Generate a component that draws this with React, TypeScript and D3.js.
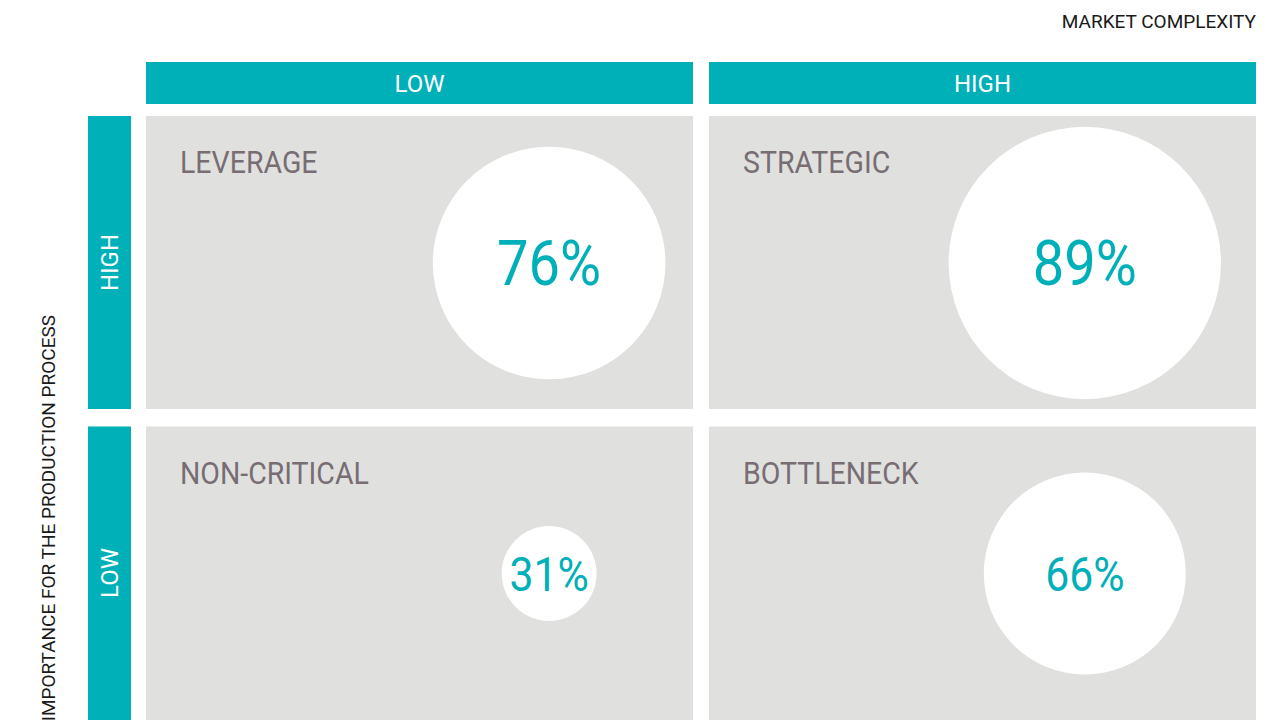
import React from "react";
import * as d3 from "d3";

const columns = ["LOW", "HIGH"];
const rows = ["HIGH", "LOW"];
const quadrantNames = ["LEVERAGE", "STRATEGIC", "NON-CRITICAL", "BOTTLENECK"];
const quadrantValues = [76, 89, 31, 66];
const xAxisTitle = "MARKET COMPLEXITY";
const yAxisTitle = "IMPORTANCE FOR THE PRODUCTION PROCESS";

const W = 1278;
const H = 720;
const TEAL = "#00b0b9";
const CELL = "#e0e1df";
const LABEL = "#776d73";
const FONT = "Roboto, 'Liberation Sans', sans-serif";
const circleXFrac = [0.737, 0.687];

export default function App() {
  const x = d3.scaleBand<string>().domain(columns).range([146, 1256]).paddingInner(16 / 563);
  const y = d3.scaleBand<string>().domain(rows).range([116, 720]).paddingInner(17 / 310.5);
  const bw = x.bandwidth();
  const bh = y.bandwidth();
  const r = d3.scaleLinear().domain([0, 100]).range([0, 153]);
  const fsPct = (v: number) => (v >= 70 ? 63 : 48);
  const rowH = (ri: number) => (ri === 0 ? 293 : bh + 2);

  return (
    <svg width={W} height={H} style={{ position: "absolute", left: 0, top: 0, background: "#fff" }}>
      <text x={1256} y={28} textAnchor="end" fontFamily={FONT} fontSize={19} fill="#1a1a1a">
        {xAxisTitle}
      </text>
      {columns.map((c) => (
        <g key={"col" + c}>
          <rect x={x(c)} y={62} width={bw} height={42} fill={TEAL} />
          <text x={(x(c) as number) + bw / 2} y={92} textAnchor="middle" fontFamily={FONT} fontSize={24} fill="#fff">
            {c}
          </text>
        </g>
      ))}
      {rows.map((rw, ri) => {
        const yy = y(rw) as number;
        return (
          <g key={"row" + rw}>
            <rect x={88} y={yy} width={43} height={rowH(ri)} fill={TEAL} />
            <text transform={`translate(118,${yy + 146.5}) rotate(-90)`} textAnchor="middle" fontFamily={FONT} fontSize={24} fill="#fff">
              {rw}
            </text>
          </g>
        );
      })}
      <text transform="translate(55,315) rotate(-90)" textAnchor="end" fontFamily={FONT} fontSize={19} fill="#1a1a1a">
        {yAxisTitle}
      </text>
      {quadrantNames.map((name, i) => {
        const ci = i % 2;
        const ri = Math.floor(i / 2);
        const cx0 = x(columns[ci]) as number;
        const cy0 = y(rows[ri]) as number;
        const v = quadrantValues[i];
        const ccx = cx0 + bw * circleXFrac[ci];
        const ccy = cy0 + 147;
        const fs = fsPct(v);
        return (
          <g key={name}>
            <rect x={cx0} y={cy0} width={bw} height={rowH(ri)} fill={CELL} />
            <text transform={`translate(${cx0 + 34},${cy0 + 57}) scale(0.92,1)`} fontFamily={FONT} fontSize={31} fill={LABEL}>
              {name}
            </text>
            <circle cx={ccx} cy={ccy} r={r(v)} fill="#fff" />
            <text transform={`translate(${ccx},${ccy + fs * 0.711 / 2}) scale(0.89,1)`} textAnchor="middle" fontFamily={FONT} fontSize={fs} fill={TEAL}>
              {v + "%"}
            </text>
          </g>
        );
      })}
    </svg>
  );
}
